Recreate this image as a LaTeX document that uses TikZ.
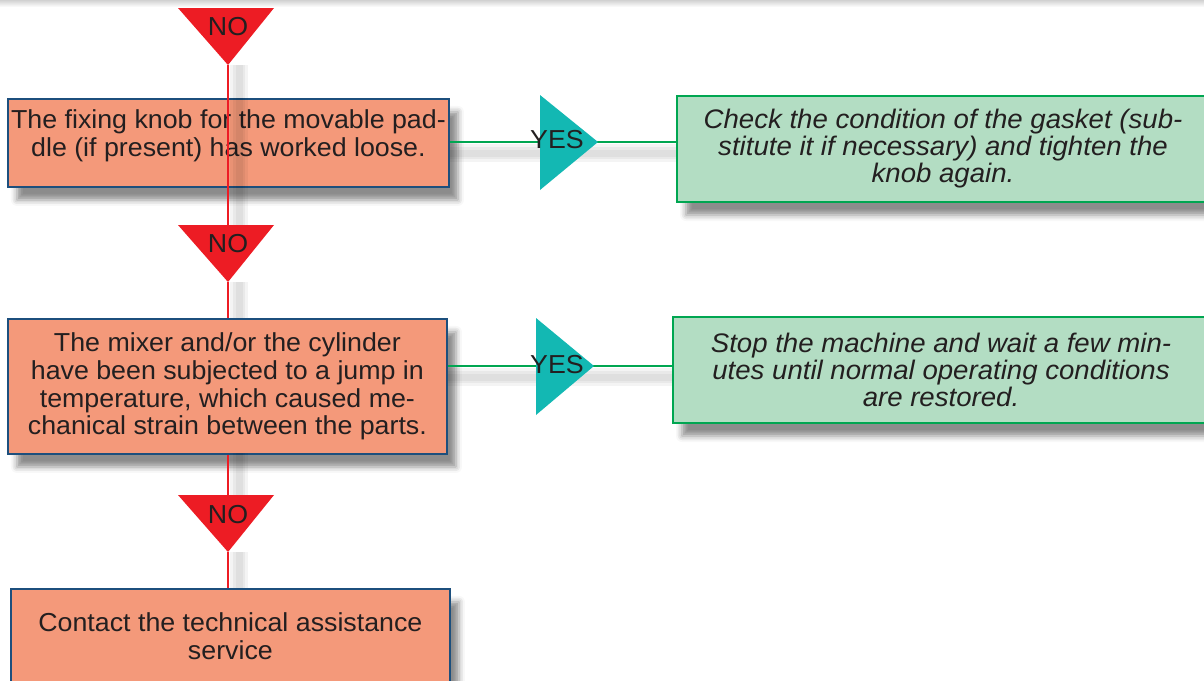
\documentclass[tikz,border=0pt]{standalone}
\usepackage{fontspec}
\setmainfont{Liberation Sans}[FakeStretch=1.03]
\usetikzlibrary{shadows.blur}
\definecolor{salmon}{HTML}{F4997A}
\definecolor{boxblue}{HTML}{1C4F7D}
\definecolor{mint}{HTML}{B3DDC3}
\definecolor{gline}{HTML}{00A651}
\definecolor{nored}{HTML}{ED1C24}
\definecolor{teal}{HTML}{13B8B3}
\definecolor{txt}{HTML}{231F20}
\tikzset{
  bshadow/.style={blur shadow={shadow xshift=9pt, shadow yshift=-13pt, shadow blur radius=6pt, shadow opacity=45}},
  probbox/.style={draw=boxblue, line width=1.8pt, fill=salmon, text=txt, align=center,
    font=\fontsize{26}{27.8}\selectfont, inner sep=0pt, anchor=north west, bshadow},
  boxtext/.style={text=txt, align=center, font=\fontsize{26}{27.8}\selectfont, inner sep=0pt},
  actbox/.style={draw=gline, line width=2pt, fill=mint, text=txt, align=center,
    font=\fontsize{26.8}{27}\selectfont\itshape, inner sep=0pt, anchor=north west, bshadow},
  nolbl/.style={text=txt, font=\fontsize{26}{27}\selectfont, inner sep=0pt},
  redline/.style={draw=nored, line width=2.8pt},
  grline/.style={draw=gline, line width=2.6pt},
  lshadow/.style={draw=black, opacity=0.045, line width=#1},
}
\begin{document}
\begin{tikzpicture}[x=1pt,y=-1pt]
\useasboundingbox (0,0) rectangle (1204,680);
\shade[top color=black!18, bottom color=white] (0,0) rectangle (1204,7);

% boxes
\node[probbox, minimum width=441pt, minimum height=88pt] (b1) at (7,98) {};
\node[boxtext] (t1) at ([yshift=7pt]b1.center)
  {The fixing knob for the movable pad-\\dle (if present) has worked loose.};
\node[probbox, minimum width=439pt, minimum height=135pt] (b2) at (7,318)
  {The mixer and/or the cylinder\\have been subjected to a jump in\\temperature, which caused me-\\chanical strain between the parts.};
\node[probbox, minimum width=439pt, minimum height=94pt] (b3) at (10,588)
  {Contact the technical assistance\\service};
\node[actbox, minimum width=532pt, minimum height=106pt] (g1) at (676,95)
  {Check the condition of the gasket (sub-\\stitute it if necessary) and tighten the\\knob again.};
\node[actbox, minimum width=536pt, minimum height=106pt] (g2) at (672,316)
  {Stop the machine and wait a few min-\\utes until normal operating conditions\\are restored.};

% triangle key points
\coordinate (n1top) at (228,8);   \coordinate (n1tip) at (228,65);
\coordinate (n2top) at (228,225); \coordinate (n2tip) at (228,282);
\coordinate (n3top) at (228,495); \coordinate (n3tip) at (228,552);
\coordinate (y1tip) at (598,142);
\coordinate (y2tip) at (594,366);

% connector shadows
\foreach \w in {18pt,12pt,7pt}{
  \draw[lshadow=\w] (239,65) -- (239,225);
  \draw[lshadow=\w] (239,282) -- (239,318);
  \draw[lshadow=\w] (239,453) -- (239,495);
  \draw[lshadow=\w] (239,552) -- (239,588);
  \draw[lshadow=\w] (450,153) -- (676,153);
  \draw[lshadow=\w] (448,377) -- (672,377);
}

% connectors
\draw[redline] (n1tip) -- (n2top);
\draw[redline] (n2tip) -- (n2tip |- b2.north);
\draw[redline] (n3top |- b2.south) -- (n3top);
\draw[redline] (n3tip) -- (n3tip |- b3.north);
\draw[grline] (b1.east |- y1tip) -- (y1tip -| g1.west);
\draw[grline] (b2.east |- y2tip) -- (y2tip -| g2.west);

% NO triangles
\fill[nored] (178,8) -- (274,8) -- (n1tip) -- cycle;
\fill[nored] (178,225) -- (274,225) -- (n2tip) -- cycle;
\fill[nored] (178,495) -- (274,495) -- (n3tip) -- cycle;
% YES triangles
\fill[teal] (540,95) -- (y1tip) -- (540,190) -- cycle;
\fill[teal] (536,318) -- (y2tip) -- (536,415) -- cycle;

% labels
\node[nolbl] (no1) at (228,27) {NO};
\node[nolbl] (no2) at (228,244) {NO};
\node[nolbl] (no3) at (228,515) {NO};
\node[nolbl] (yes1) at (557,140) {YES};
\node[nolbl] (yes2) at (557,365) {YES};
\end{tikzpicture}
\end{document}
